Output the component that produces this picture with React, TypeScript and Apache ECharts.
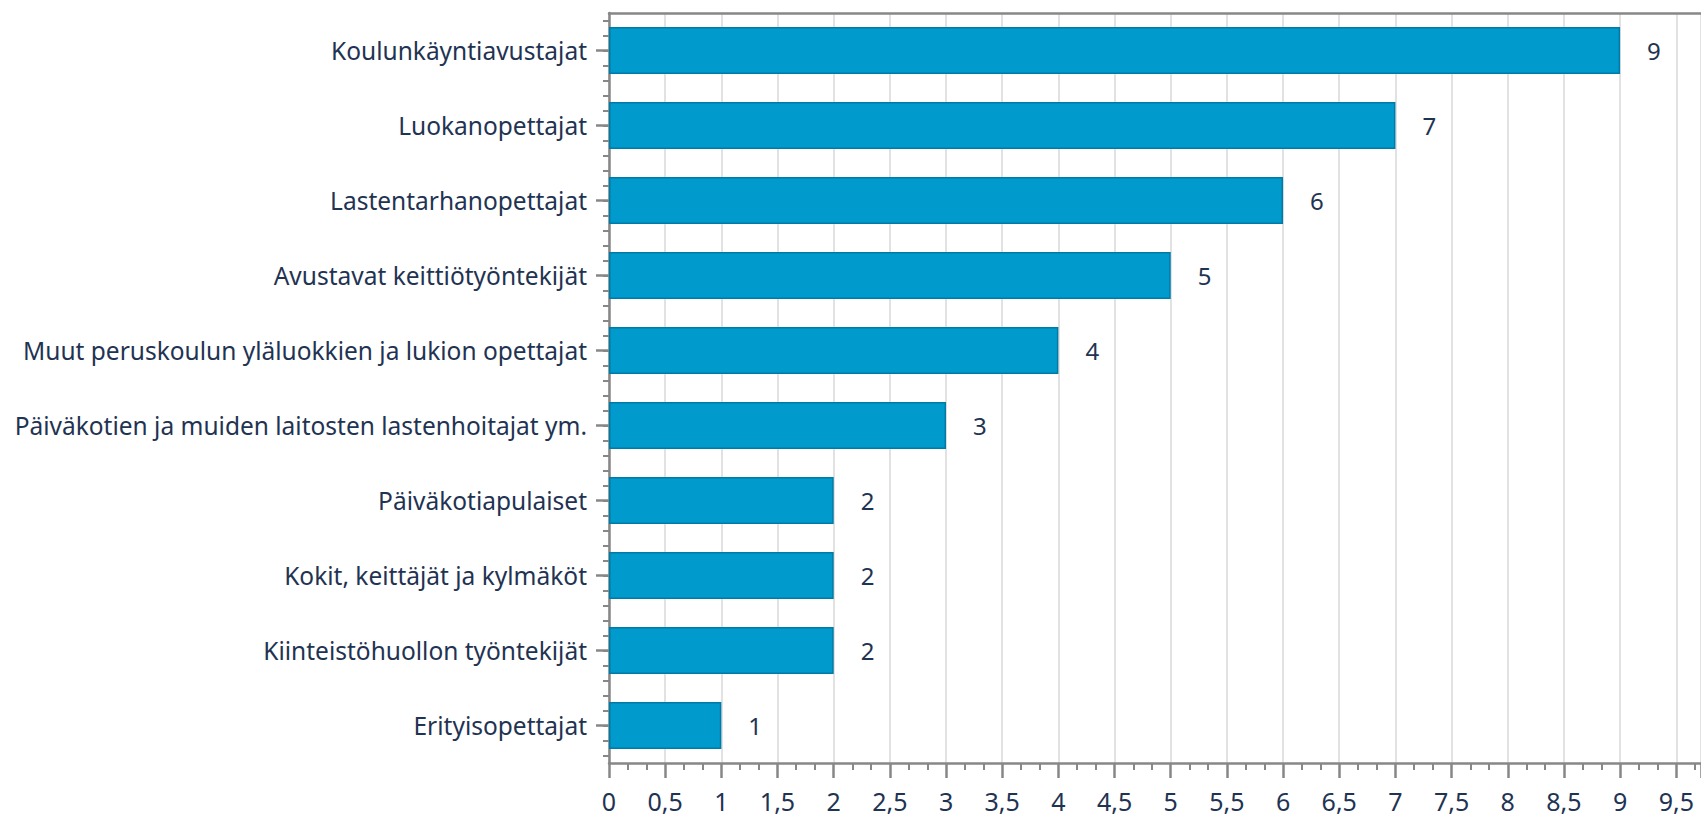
import React, { useEffect, useRef } from "react";
import * as echarts from "echarts";

const categories = [
  "Koulunkäyntiavustajat",
  "Luokanopettajat",
  "Lastentarhanopettajat",
  "Avustavat keittiötyöntekijät",
  "Muut peruskoulun yläluokkien ja lukion opettajat",
  "Päiväkotien ja muiden laitosten lastenhoitajat ym.",
  "Päiväkotiapulaiset",
  "Kokit, keittäjät ja kylmäköt",
  "Kiinteistöhuollon työntekijät",
  "Erityisopettajat",
];
const values = [9, 7, 6, 5, 4, 3, 2, 2, 2, 1];
const xMin = 0;
const xMax = 9.72;
const xInterval = 0.5;

const FONT = "'Noto Sans', 'Open Sans', sans-serif";
const TEXT = "#1f3352";
const AXIS = "#878787";

export default function App() {
  const ref = useRef<HTMLDivElement>(null);
  useEffect(() => {
    document.body.style.margin = "0";
    if (!ref.current) return;
    const chart = echarts.init(ref.current, undefined, { renderer: "svg" });
    const minorY: number[] = [];
    for (let k = 0; k < categories.length * 5; k++) minorY.push(0.1 + 0.2 * k);
    chart.setOption({
      animation: false,
      backgroundColor: "#ffffff",
      grid: { left: 609, top: 13, right: 0, bottom: 55, containLabel: false },
      xAxis: [
        {
          type: "value",
          position: "bottom",
          min: xMin,
          max: xMax,
          interval: xInterval,
          axisLine: { show: true, onZero: false, lineStyle: { color: AXIS, width: 2.5 } },
          axisTick: { show: true, length: 15, lineStyle: { color: AXIS, width: 2.5 } },
          minorTick: { show: true, splitNumber: 3, length: 7, lineStyle: { color: AXIS, width: 2 } },
          splitLine: { show: true, lineStyle: { color: "#d8d8d8", width: 1.5 } },
          axisLabel: {
            show: true,
            showMaxLabel: false,
            margin: 25,
            color: TEXT,
            fontFamily: FONT,
            fontSize: 25,
            formatter: (v: number) => String(v).replace(".", ","),
          },
        },
        {
          type: "value",
          position: "top",
          min: 0,
          max: 1,
          axisLine: { show: true, onZero: false, lineStyle: { color: AXIS, width: 2.5 } },
          axisTick: { show: false },
          axisLabel: { show: false },
          splitLine: { show: false },
        },
      ],
      yAxis: [
        {
          type: "category",
          data: categories,
          inverse: true,
          position: "left",
          axisLine: { show: true, onZero: false, lineStyle: { color: AXIS, width: 2.5 } },
          axisTick: { show: true, alignWithLabel: true, length: 13, lineStyle: { color: AXIS, width: 2.5 } },
          axisLabel: { margin: 22, color: TEXT, fontFamily: FONT, fontSize: 24.5 },
          splitLine: { show: false },
        },
        {
          type: "value",
          position: "left",
          min: 0,
          max: categories.length,
          inverse: true,
          axisLine: { show: false, onZero: false },
          axisTick: { show: true, length: 6, customValues: minorY, lineStyle: { color: AXIS, width: 2 } },
          axisLabel: { show: false },
          splitLine: { show: false },
        },
      ],
      series: [
        {
          type: "bar",
          data: values,
          xAxisIndex: 0,
          yAxisIndex: 0,
          barWidth: 47,
          itemStyle: { color: "#009acd", borderColor: "#007aa6", borderWidth: 1.5 },
          label: {
            show: true,
            position: "right",
            distance: 27,
            color: TEXT,
            fontFamily: FONT,
            fontSize: 24,
          },
        },
      ],
    });
    return () => chart.dispose();
  }, []);
  return <div ref={ref} style={{ width: 1701, height: 818 }} />;
}
